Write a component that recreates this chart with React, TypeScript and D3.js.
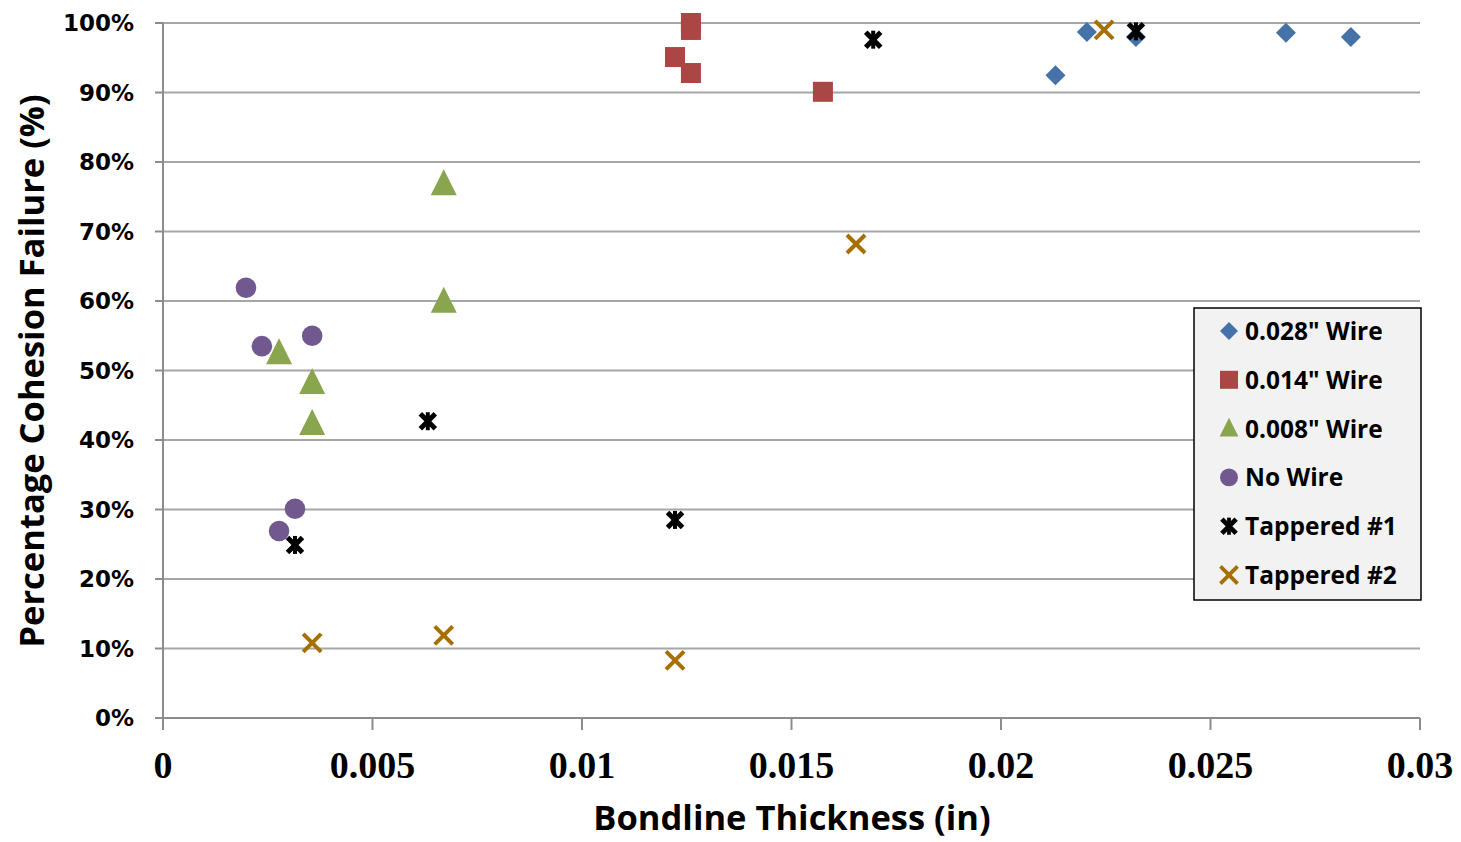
import React from "react";
import * as d3 from "d3";

const wire028X = [0.0213, 0.02205, 0.02322, 0.0268, 0.02835];
const wire028Y = [92.5, 98.7, 98.0, 98.6, 98.0];
const wire014X = [0.0126, 0.0126, 0.01222, 0.0126, 0.01575];
const wire014Y = [100, 99, 95.1, 92.8, 90.1];
const wire008X = [0.0067, 0.0067, 0.00277, 0.00356, 0.00356];
const wire008Y = [76.8, 59.9, 52.5, 48.2, 42.3];
const noWireX = [0.00198, 0.00236, 0.00356, 0.00315, 0.00277];
const noWireY = [61.9, 53.5, 55.0, 30.1, 26.9];
const tap1X = [0.00315, 0.00632, 0.01222, 0.01695, 0.02322];
const tap1Y = [24.9, 42.7, 28.5, 97.6, 98.8];
const tap2X = [0.00356, 0.0067, 0.01222, 0.01654, 0.02246];
const tap2Y = [10.8, 11.9, 8.3, 68.2, 99.0];

const xTicks = [0, 0.005, 0.01, 0.015, 0.02, 0.025, 0.03];
const xTickLabels = ["0", "0.005", "0.01", "0.015", "0.02", "0.025", "0.03"];
const yTicks = [0, 10, 20, 30, 40, 50, 60, 70, 80, 90, 100];

const seriesNames = ['0.028" Wire', '0.014" Wire', '0.008" Wire', "No Wire", "Tappered #1", "Tappered #2"];
const seriesColors = ["#4572A7", "#AA4643", "#89A54E", "#71588F", "#000000", "#A66F00"];
const seriesShapes = ["diamond", "square", "triangle", "circle", "star", "x"];
const legendScale = [0.9, 0.9, 0.72, 0.87, 0.95, 0.95];

function Marker({ shape, color, s }: { shape: string; color: string; s: number }) {
  if (shape === "diamond") {
    const r = 10 * s;
    return <path d={`M0,${-r}L${r},0L0,${r}L${-r},0Z`} fill={color} />;
  }
  if (shape === "square") {
    const h = 10 * s;
    return <rect x={-h} y={-h} width={2 * h} height={2 * h} fill={color} />;
  }
  if (shape === "triangle") {
    return <path d={`M0,${-15 * s}L${13 * s},${11 * s}L${-13 * s},${11 * s}Z`} fill={color} />;
  }
  if (shape === "circle") {
    return <circle r={10.3 * s} fill={color} />;
  }
  if (shape === "star") {
    const h = 7.5 * s;
    return (
      <g stroke={color} strokeWidth={5 * s} strokeLinecap="butt">
        <line x1={-h} y1={-h} x2={h} y2={h} />
        <line x1={-h} y1={h} x2={h} y2={-h} />
        <line x1={0} y1={-h - 1.5 * s} x2={0} y2={h + 1.5 * s} strokeWidth={4 * s} />
      </g>
    );
  }
  const h = 9 * s;
  return (
    <g stroke={color} strokeWidth={4 * s}>
      <line x1={-h} y1={-h} x2={h} y2={h} />
      <line x1={-h} y1={h} x2={h} y2={-h} />
    </g>
  );
}

export default function App() {
  const W = 1461;
  const H = 842;
  const left = 163;
  const right = 1420;
  const top = 23;
  const bottom = 718;
  const x = d3.scaleLinear().domain([0, 0.03]).range([left, right]);
  const y = d3.scaleLinear().domain([0, 100]).range([bottom, top]);

  const series = [
    [wire028X, wire028Y],
    [wire014X, wire014Y],
    [wire008X, wire008Y],
    [noWireX, noWireY],
    [tap1X, tap1Y],
    [tap2X, tap2Y],
  ];

  const gridColor = "#A6A6A6";
  const axisColor = "#8C8C8C";

  return (
    <svg width={W} height={H} style={{ position: "absolute", left: 0, top: 0, background: "#fff" }}>
      {yTicks.map((t) => (
        <g key={t}>
          {t > 0 && (
            <line x1={left} x2={right} y1={y(t)} y2={y(t)} stroke={gridColor} strokeWidth={2} />
          )}
          <line x1={left - 8} x2={left} y1={y(t)} y2={y(t)} stroke={axisColor} strokeWidth={2} />
          <text
            x={134}
            y={y(t) + 8}
            textAnchor="end"
            fontFamily="DejaVu Sans"
            fontWeight="bold"
            fontSize={23}
            fill="#000"
          >
            {t}%
          </text>
        </g>
      ))}
      <line x1={left} x2={left} y1={top} y2={bottom} stroke={axisColor} strokeWidth={2} />
      <line x1={left} x2={right} y1={bottom} y2={bottom} stroke={axisColor} strokeWidth={2} />
      {xTicks.map((t, i) => (
        <g key={t}>
          <line x1={x(t)} x2={x(t)} y1={bottom} y2={bottom + 12} stroke={axisColor} strokeWidth={2} />
          <text
            x={x(t)}
            y={778}
            textAnchor="middle"
            fontFamily="Liberation Serif"
            fontWeight="bold"
            fontSize={38}
            fill="#000"
          >
            {xTickLabels[i]}
          </text>
        </g>
      ))}

      {series.map(([xs, ys], si) => (
        <g key={si}>
          {xs.map((xv, i) => (
            <g key={i} transform={`translate(${x(xv)},${y(ys[i])})`}>
              <Marker shape={seriesShapes[si]} color={seriesColors[si]} s={1} />
            </g>
          ))}
        </g>
      ))}

      <text
        x={792}
        y={830}
        textAnchor="middle"
        fontFamily="Open Sans"
        fontWeight="bold"
        fontSize={34.5}
        fill="#000"
      >
        Bondline Thickness (in)
      </text>
      <text
        transform={`translate(44,371) rotate(-90)`}
        textAnchor="middle"
        fontFamily="Open Sans"
        fontWeight="bold"
        fontSize={34.5}
        fill="#000"
      >
        Percentage Cohesion Failure (%)
      </text>

      <rect x={1194} y={308} width={227} height={292} fill="#F2F2F2" stroke="#000" strokeWidth={1.5} />
      {seriesNames.map((n, i) => {
        const cy = 331 + i * 48.8;
        return (
          <g key={n}>
            <g transform={`translate(1229,${cy})`}>
              <Marker shape={seriesShapes[i]} color={seriesColors[i]} s={legendScale[i]} />
            </g>
            <text
              x={1245}
              y={cy + 9}
              fontFamily="Open Sans"
              fontWeight="bold"
              fontSize={24.5}
              fill="#000"
            >
              {n}
            </text>
          </g>
        );
      })}
    </svg>
  );
}
